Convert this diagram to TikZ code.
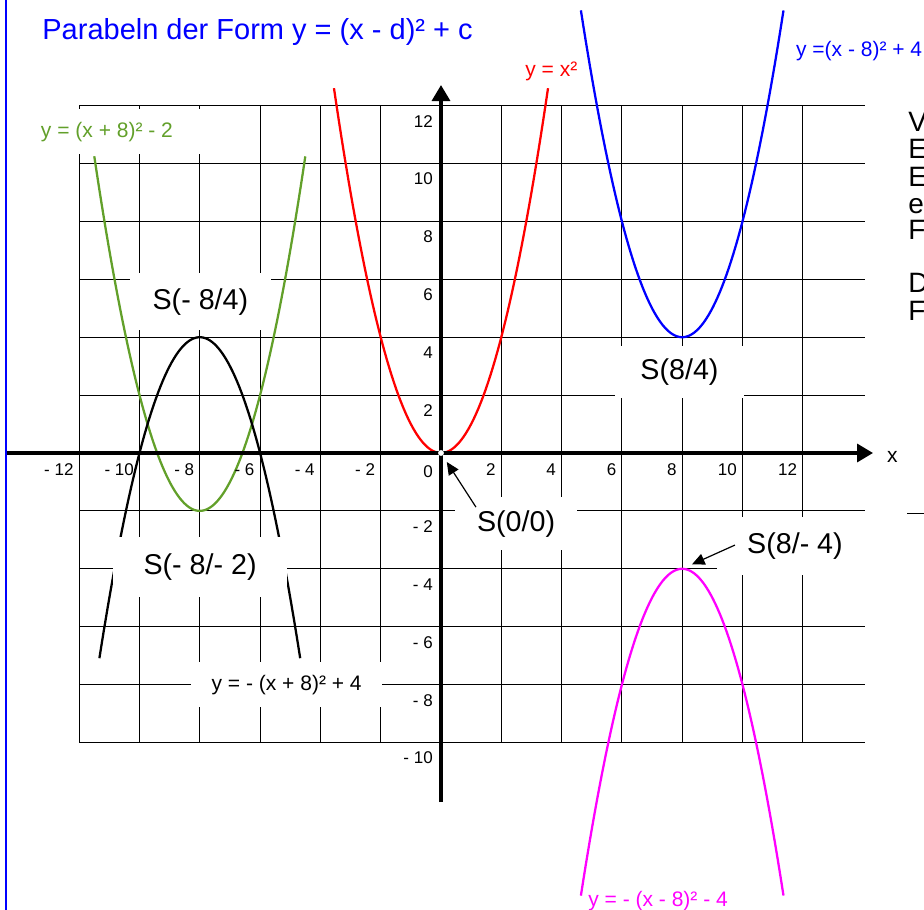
\documentclass[tikz,border=0pt]{standalone}
\usepackage{fontspec}
\setmainfont{Liberation Sans}
\usetikzlibrary{arrows.meta}
\definecolor{gruen}{RGB}{98,160,42}
\definecolor{fuchsie}{RGB}{255,0,255}

\begin{document}
\begin{tikzpicture}[x=22.61pt,y=21.71pt,
        gitter/.style={line width=0.8pt},
        kurve/.style={line width=1.7pt,samples=90},
        achse/.style={line width=2.5pt,-{Triangle[length=12pt,width=13.5pt]}},
        zeiger/.style={line width=0.9pt,-{Triangle[length=9.5pt,width=8.5pt]},shorten >=8pt},
        schild/.style={fill=white,inner sep=0pt,font=\fontsize{21.5pt}{24pt}\selectfont},
        formel/.style={inner sep=0pt,font=\fontsize{15.75pt}{18pt}\selectfont},
        zahl/.style={inner sep=0pt,font=\fontsize{12.75pt}{15pt}\selectfont}]
            \useasboundingbox (-14.627,-15.786) rectangle (16.02,15.648);
            \draw[blue,line width=2pt] (-14.43,15.648) -- (-14.43,-15.786);

            \foreach \k in {-12,-10,-8,-6,-4,-2,2,4,6,8,10,12}{
                \draw[gitter] (\k,-10) -- (\k,12);
            }
            \foreach \k in {-10,-8,-6,-4,-2,2,4,6,8,10,12}{
                \draw[gitter] (-12,\k) -- (14.06,\k);
            }
            \draw[gitter] (15.46,-2.1) -- (16.02,-2.1);

            \draw[kurve,red,domain=-3.55:3.55] plot (\x,{\x*\x});
            \draw[kurve,gruen,domain=-11.5:-4.5] plot (\x,{(\x+8)^2-2});
            \draw[kurve,black,domain=-11.33:-4.67] plot (\x,{4-(\x+8)^2});
            \draw[kurve,blue,domain=4.64:11.36] plot (\x,{(\x-8)^2+4});
            \draw[kurve,fuchsie,domain=4.64:11.36] plot (\x,{-4-(\x-8)^2});

            \node[schild,minimum width=105.75pt,minimum height=42.75pt] (s1) at (-7.98,5.23) {S(- 8/4)};
            \node[schild,minimum width=130.5pt,minimum height=45pt] (s2) at (-7.99,-3.94) {S(- 8/- 2)};
            \node[schild,minimum width=91.5pt,minimum height=39.75pt] (s3) at (2.49,-2.44) {S(0/0)};
            \node[schild,minimum width=96.75pt,minimum height=39pt] (s4) at (7.91,2.80) {S(8/4)};
            \node[schild,minimum width=117pt,minimum height=43.5pt] (s5) at (11.74,-3.21) {S(8/- 4)};
            \node[schild,formel,fill=white,minimum width=143.25pt,minimum height=33.75pt] (f3) at (-5.12,-8.00) {y = - (x + 8)² + 4};
            \node[schild,formel,fill=white,text=gruen,minimum width=147pt,minimum height=33.75pt] (f2) at (-11.08,11.09) {y = (x + 8)² - 2};

            \draw[achse] (-14.39,0) -- (14.33,0);
            \draw[achse] (0,-12.06) -- (0,12.71);
            \fill[white] (0,0) circle (2.2pt);

            \foreach \k/\t in {-12/- 12,-10/- 10,-8/- 8,-6/- 6,-4/- 4,-2/- 2,2/2,4/4,6/6,8/8,10/10,12/12}{
                \node[zahl,anchor=base east] at (\k-0.18,-0.76) {\t};
            }
            \foreach \k/\t in {-10/- 10,-8/- 8,-6/- 6,-4/- 4,-2/- 2,2/2,4/4,6/6,8/8,10/10,12/12}{
                \node[zahl,anchor=base east] at (-0.265,\k-0.74) {\t};
            }
            \node[zahl,anchor=base east] (null) at (-0.265,-0.83) {0};
            \node[formel,anchor=base west] (xname) at (14.79,-0.345) {x};

            \node[anchor=base west,inner sep=0pt,blue,font=\fontsize{21.75pt}{24pt}\selectfont] (titel) at (-13.23,14.27) {Parabeln der Form y = (x - d)² + c};
            \node[formel,anchor=base west,blue] (f4) at (11.77,13.71) {y =(x - 8)² + 4};
            \node[formel,anchor=base west,red] (f1) at (2.79,12.99) {y = x²};
            \node[formel,anchor=base west,fuchsie] (f5) at (4.88,-15.68) {y = - (x - 8)² - 4};

            \foreach \y/\b in {11.09/V,10.16/E,9.22/E,8.29/e,7.36/F,5.53/D,4.59/F}{
                \node[anchor=base west,inner sep=0pt,font=\fontsize{21pt}{24pt}\selectfont] at (15.49,\y) {\b};
            }

            \coordinate (v0) at (0,0);
            \coordinate (v4) at (8,-4);
            \coordinate (a0) at (1.16,-1.87);
            \coordinate (a4) at (9.75,-3.18);
            \draw[zeiger] (a0) -- (v0);
            \draw[zeiger] (a4) -- (v4);
        \end{tikzpicture}
\end{document}
